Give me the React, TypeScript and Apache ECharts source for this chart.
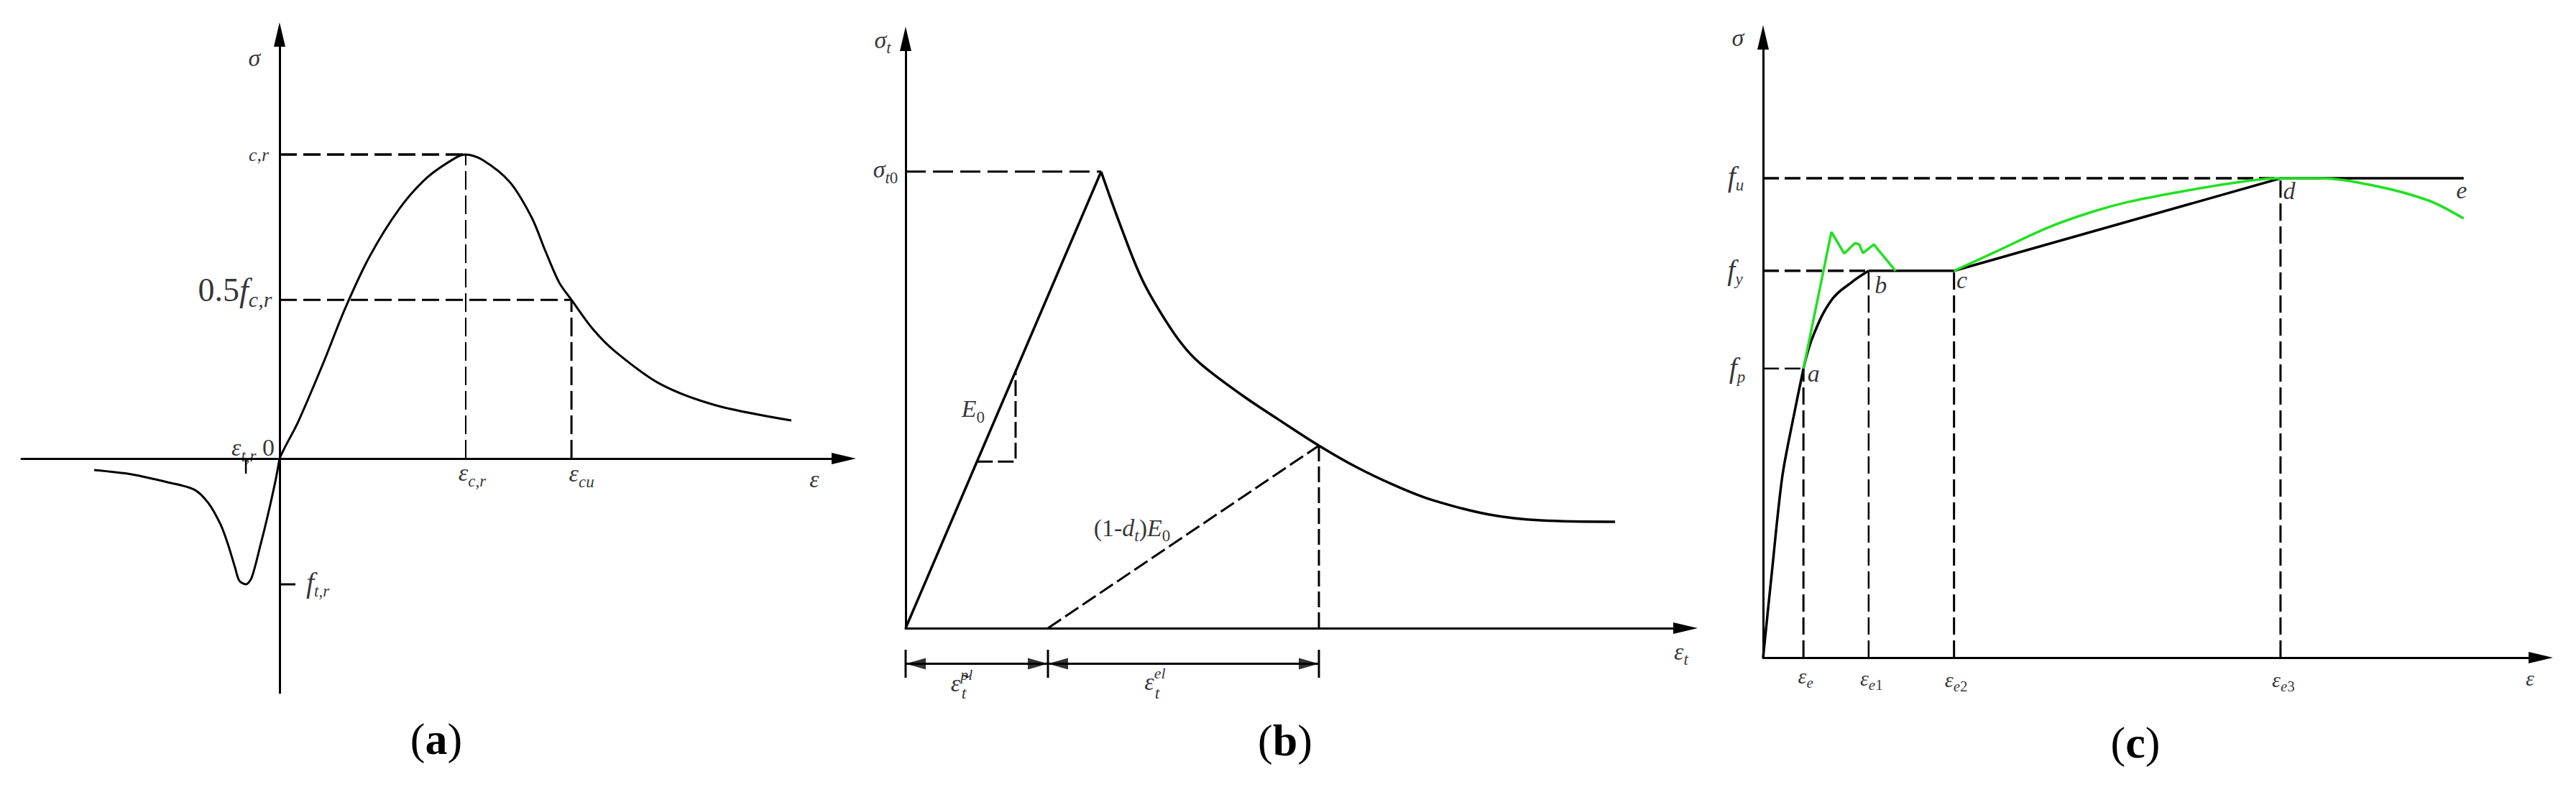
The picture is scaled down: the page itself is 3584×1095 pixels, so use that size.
import React, { useEffect, useRef } from "react";
import * as echarts from "echarts";

type P = [number, number];

const FONT = "'Liberation Serif', 'Times New Roman', serif";
const BLACK = "#000000";
const GREEN = "#22e022";

// ---------------- Panel (a): concrete, normalised (ε / ε_c,r , σ / f_c,r) ----------------
const A_X_RANGE: P = [-1.386, 3.031];
const A_Y_RANGE: P = [-0.771, 1.395];
const A_TENSION: P[] = [
  [-0.996, -0.038], [-0.795, -0.052], [-0.602, -0.078], [-0.459, -0.102], [-0.382, -0.147],
  [-0.317, -0.217], [-0.278, -0.281], [-0.239, -0.359], [-0.216, -0.402], [-0.181, -0.414],
  [-0.150, -0.392], [-0.104, -0.288], [-0.066, -0.194], [-0.023, -0.076], [0, 0],
];
const A_COMPRESSION: P[] = [
  [0, 0], [0.027, 0.035], [0.100, 0.121], [0.232, 0.310], [0.351, 0.492], [0.483, 0.664],
  [0.645, 0.823], [0.792, 0.924], [0.942, 0.988], [1.0, 1.0], [1.089, 0.983], [1.236, 0.910],
  [1.355, 0.792], [1.429, 0.681], [1.502, 0.579], [1.568, 0.522], [1.680, 0.428], [1.803, 0.352],
  [2.042, 0.246], [2.344, 0.175], [2.749, 0.125],
];
const A_EPS_TR = -0.181;
const A_F_TR = -0.414;
const A_EPS_CR = 1.0;
const A_F_CR = 1.0;
const A_EPS_CU = 1.568;
const A_HALF_FCR = 0.522;
const A_TICK_LEN = 0.05;
const A_FTR_TICK_LEN = 0.085;

// ---------------- Panel (b): concrete tension damage (ε / ε_t0 , σ / σ_t0) ----------------
const B_X_RANGE: P = [0, 3.989];
const B_Y_RANGE: P = [0, 1.291];
const B_EPS_T0 = 1.0;
const B_SIG_T0 = 1.0;
const B_LOADING: P[] = [[0, 0], [B_EPS_T0, B_SIG_T0]];
const B_SOFTENING: P[] = [
  [1.0, 1.0], [1.099, 0.882], [1.213, 0.761], [1.349, 0.661], [1.445, 0.606], [1.537, 0.569],
  [1.732, 0.507], [1.904, 0.458], [2.114, 0.400], [2.305, 0.353], [2.500, 0.313], [2.684, 0.282],
  [2.982, 0.249], [3.250, 0.236], [3.629, 0.233],
];
const B_PLASTIC = 0.728; // ε̃_t^pl
const B_UNLOAD_END: P = [2.114, 0.400];
const B_TRI_LOW = 0.365;
const B_TRI_HIGH = 0.5625;
const B_ARROW_HALF = 0.0515;

// ---------------- Panel (c): steel (ε / ε_e3 , σ / f_u) ----------------
const C_X_RANGE: P = [0, 1.503];
const C_Y_RANGE: P = [0, 1.294];
const C_EPS_E = 0.078;
const C_EPS_E1 = 0.204;
const C_EPS_E2 = 0.369;
const C_EPS_E3 = 1.0;
const C_END = 1.354;
const C_FP = 0.603;
const C_FY = 0.807;
const C_FU = 1.0;
const C_ELASTIC: P[] = [[0, 0], [0.016, 0.168], [0.037, 0.377], [0.059, 0.503], [C_EPS_E, C_FP]];
const C_ELASTO_PLASTIC: P[] = [[C_EPS_E, C_FP], [0.097, 0.672], [0.133, 0.747], [0.171, 0.783], [C_EPS_E1, C_FY]];
const C_PLATEAU_HARDEN: P[] = [[C_EPS_E1, C_FY], [C_EPS_E2, C_FY], [C_EPS_E3, C_FU], [C_END, C_FU]];
const C_TEST_YIELD: P[] = [
  [C_EPS_E, C_FP], [0.132, 0.888], [0.157, 0.843], [0.178, 0.865], [0.186, 0.862], [0.193, 0.844],
  [0.214, 0.862], [0.256, 0.807],
];
const C_TEST_HARDEN: P[] = [
  [C_EPS_E2, C_FY], [0.45, 0.847], [0.55, 0.897], [0.636, 0.930], [0.711, 0.952], [0.822, 0.975],
  [0.926, 0.993], [1.0, 1.0], [1.072, 1.0], [1.179, 0.985], [1.285, 0.954], [1.354, 0.916],
];

const PANEL_TAGS = ["a", "b", "c"];

// ---------------- helpers ----------------
const ln = (g: number, data: P[], o: any = {}) => ({
  type: "line",
  xAxisIndex: g,
  yAxisIndex: g,
  data,
  symbol: "none",
  showSymbol: false,
  smooth: o.smooth ?? false,
  clip: false,
  silent: true,
  z: o.z ?? 3,
  lineStyle: { color: o.color ?? BLACK, width: o.w ?? 3, type: o.dash ?? "solid", cap: "butt" },
});

const RICH: any = {
  m: { fontFamily: FONT, fontStyle: "italic", fontSize: 34, lineHeight: 46, color: BLACK },
  s: { fontFamily: FONT, fontStyle: "italic", fontSize: 23, lineHeight: 23, verticalAlign: "bottom", color: BLACK },
  s2: { fontFamily: FONT, fontStyle: "italic", fontSize: 24, lineHeight: 24, color: BLACK },
  ns: { fontFamily: FONT, fontSize: 23, lineHeight: 23, verticalAlign: "bottom", color: BLACK },
  u: { fontFamily: FONT, fontStyle: "italic", fontSize: 22, lineHeight: 22, verticalAlign: "top", color: BLACK },
  n: { fontFamily: FONT, fontSize: 34, lineHeight: 46, color: BLACK },
  cr: { fontFamily: FONT, fontStyle: "italic", fontSize: 26, lineHeight: 30, color: BLACK },
  N: { fontFamily: FONT, fontSize: 46, lineHeight: 56, color: BLACK },
  M: { fontFamily: FONT, fontStyle: "italic", fontSize: 46, lineHeight: 56, color: BLACK },
  S: { fontFamily: FONT, fontStyle: "italic", fontSize: 30, lineHeight: 30, verticalAlign: "bottom", color: BLACK },
  f: { fontFamily: FONT, fontStyle: "italic", fontSize: 40, lineHeight: 48, color: BLACK },
  pt: { fontFamily: FONT, fontStyle: "italic", fontSize: 34, lineHeight: 40, color: BLACK },
  cm: { fontFamily: FONT, fontStyle: "italic", fontSize: 30, lineHeight: 40, color: BLACK },
  cs: { fontFamily: FONT, fontStyle: "italic", fontSize: 21, lineHeight: 21, verticalAlign: "bottom", color: BLACK },
  cns: { fontFamily: FONT, fontSize: 21, lineHeight: 21, verticalAlign: "bottom", color: BLACK },
};

type Lbl = { at: P; t: string; d: P };
const labels = (g: number, list: Lbl[]) => ({
  type: "scatter",
  xAxisIndex: g,
  yAxisIndex: g,
  symbolSize: 1,
  clip: false,
  silent: true,
  z: 10,
  itemStyle: { color: "rgba(0,0,0,0)" },
  label: { show: true, position: "inside", color: BLACK, fontFamily: FONT, fontSize: 34, rich: RICH },
  data: list.map((l) => ({ value: l.at, label: { formatter: () => l.t, offset: l.d } })),
});

const axisLine = {
  show: true,
  onZero: true,
  symbol: ["none", "triangle"],
  symbolSize: [16, 34],
  lineStyle: { color: BLACK, width: 3 },
};
const mkAxis = (g: number, r: P, show: boolean) => ({
  type: "value",
  gridIndex: g,
  min: r[0],
  max: r[1],
  show,
  axisLine,
  axisTick: { show: false },
  axisLabel: { show: false },
  splitLine: { show: false },
});

export default function App() {
  const ref = useRef<HTMLDivElement>(null);
  useEffect(() => {
    document.body.style.margin = "0";
    if (!ref.current) return;
    const chart = echarts.init(ref.current, undefined, { renderer: "svg" });

    const A_LABELS: Lbl[] = [
      { at: [0, A_Y_RANGE[1]], t: "{m|σ}", d: [-35, 32] },
      { at: [A_X_RANGE[1], 0], t: "{m|ε}", d: [-41, 29] },
      { at: [0, A_F_CR], t: "{cr|c,r}", d: [-29, 0] },
      { at: [0, A_HALF_FCR], t: "{N|0.5}{M|f}{S|c,r}", d: [-62, -14] },
      { at: [A_EPS_CR, 0], t: "{m|ε}{s|c,r}", d: [9, 20] },
      { at: [A_EPS_CU, 0], t: "{m|ε}{s|cu}", d: [14, 21] },
      { at: [0, 0], t: "{m|ε}{s|t,r}{n| 0}", d: [-37, -15] },
      { at: [0, A_F_TR], t: "{f|f}{s|t,r}", d: [53, -3] },
    ];
    const B_LABELS: Lbl[] = [
      { at: [0, B_Y_RANGE[1]], t: "{m|σ}{s|t}", d: [-32, 1] },
      { at: [0, B_SIG_T0], t: "{m|σ}{s|t}{ns|0}", d: [-28, -3] },
      { at: [B_X_RANGE[1], 0], t: "{m|ε}{s|t}", d: [-6, 32] },
      { at: [B_TRI_HIGH, B_TRI_HIGH], t: "{m|E}{ns|0}", d: [-59, 52] },
      { at: [B_PLASTIC, 0], t: "{n|(1-}{m|d}{s|t}{n|)}{m|E}{ns|0}", d: [117, -140] },
      { at: [0, 0], t: "{m|ε\u0303}{u|pl}", d: [78, 76] },
      { at: [0, 0], t: "{s2|t}", d: [81, 90] },
      { at: [B_PLASTIC, 0], t: "{m|ε}{u|el}", d: [149, 74] },
      { at: [B_PLASTIC, 0], t: "{s2|t}", d: [152, 90] },
    ];
    const C_LABELS: Lbl[] = [
      { at: [0, C_Y_RANGE[1]], t: "{m|σ}", d: [-35, 0] },
      { at: [0, C_FU], t: "{f|f}{s|u}", d: [-38, -3] },
      { at: [0, C_FY], t: "{f|f}{s|y}", d: [-39, -1] },
      { at: [0, C_FP], t: "{f|f}{s|p}", d: [-36, -1] },
      { at: [C_X_RANGE[1], 0], t: "{cm|ε}", d: [-15, 28] },
      { at: [C_EPS_E, 0], t: "{cm|ε}{cs|e}", d: [3, 25] },
      { at: [C_EPS_E1, 0], t: "{cm|ε}{cs|e}{cns|1}", d: [4, 28] },
      { at: [C_EPS_E2, 0], t: "{cm|ε}{cs|e}{cns|2}", d: [3, 30] },
      { at: [C_EPS_E3, 0], t: "{cm|ε}{cs|e}{cns|3}", d: [4, 30] },
      { at: [C_EPS_E, C_FP], t: "{pt|a}", d: [14, 7] },
      { at: [C_EPS_E1, C_FY], t: "{pt|b}", d: [17, 20] },
      { at: [C_EPS_E2, C_FY], t: "{pt|c}", d: [11, 13] },
      { at: [C_EPS_E3, C_FU], t: "{pt|d}", d: [12, 17] },
      { at: [C_END, C_FU], t: "{pt|e}", d: [-3, 16] },
    ];

    const dashA = [24, 9];
    const dashC = [22, 8];
    const series: any[] = [
      // ----- (a)
      ln(0, [[0, A_F_CR], [A_EPS_CR, A_F_CR]], { dash: dashA, w: 3.5 }),
      ln(0, [[0, A_HALF_FCR], [A_EPS_CU, A_HALF_FCR]], { dash: dashA, w: 3 }),
      ln(0, [[A_EPS_CR, 0], [A_EPS_CR, A_F_CR]], { dash: [26, 8], w: 2 }),
      ln(0, [[A_EPS_CU, 0], [A_EPS_CU, A_HALF_FCR]], { dash: [26, 8], w: 3 }),
      ln(0, [[A_EPS_TR, 0], [A_EPS_TR, -A_TICK_LEN]], { w: 2.5 }),
      ln(0, [[0, A_F_TR], [A_FTR_TICK_LEN, A_F_TR]], { w: 3 }),
      ln(0, A_TENSION, { smooth: 0.3, w: 3 }),
      ln(0, A_COMPRESSION, { smooth: 0.3, w: 3 }),
      labels(0, A_LABELS),
      // ----- (b)
      ln(1, [[0, B_SIG_T0], [B_EPS_T0, B_SIG_T0]], { dash: [28, 10], w: 3 }),
      ln(1, [[B_TRI_LOW, B_TRI_LOW], [B_TRI_HIGH, B_TRI_LOW], [B_TRI_HIGH, B_TRI_HIGH]], { dash: [22, 7], w: 3 }),
      ln(1, [[B_PLASTIC, 0], B_UNLOAD_END], { dash: [22, 7], w: 3 }),
      ln(1, [[B_UNLOAD_END[0], 0], B_UNLOAD_END], { dash: [22, 7], w: 3 }),
      ln(1, B_LOADING, { w: 3.5 }),
      ln(1, B_SOFTENING, { smooth: 0.35, w: 3.5 }),
      labels(1, B_LABELS),
      // ----- (b) dimension lines
      ln(3, [[0, 0], [0, 1]], { w: 3 }),
      ln(3, [[B_PLASTIC, 0], [B_PLASTIC, 1]], { w: 3 }),
      ln(3, [[B_UNLOAD_END[0], 0], [B_UNLOAD_END[0], 1]], { w: 3 }),
      ln(3, [[0, 0.5], [B_UNLOAD_END[0], 0.5]], { w: 3 }),
      {
        type: "scatter", xAxisIndex: 3, yAxisIndex: 3, clip: false, silent: true,
        symbol: "path://M0,8L28,0L28,16Z", symbolSize: [28, 16], itemStyle: { color: BLACK },
        data: [[B_ARROW_HALF, 0.5], [B_PLASTIC + B_ARROW_HALF, 0.5]],
      },
      {
        type: "scatter", xAxisIndex: 3, yAxisIndex: 3, clip: false, silent: true,
        symbol: "path://M28,8L0,0L0,16Z", symbolSize: [28, 16], itemStyle: { color: BLACK },
        data: [[B_PLASTIC - B_ARROW_HALF, 0.5], [B_UNLOAD_END[0] - B_ARROW_HALF, 0.5]],
      },
      // ----- (c)
      ln(2, [[0, C_FU], [C_EPS_E3, C_FU]], { dash: dashC, w: 3.5 }),
      ln(2, [[0, C_FY], [C_EPS_E1, C_FY]], { dash: dashC, w: 3.5 }),
      ln(2, [[0, C_FP], [C_EPS_E, C_FP]], { dash: dashC, w: 2.5 }),
      ln(2, [[C_EPS_E, 0], [C_EPS_E, C_FP]], { dash: [24, 8], w: 3 }),
      ln(2, [[C_EPS_E1, 0], [C_EPS_E1, C_FY]], { dash: [24, 8], w: 2.5 }),
      ln(2, [[C_EPS_E2, 0], [C_EPS_E2, C_FY]], { dash: [24, 8], w: 3 }),
      ln(2, [[C_EPS_E3, 0], [C_EPS_E3, C_FU]], { dash: [24, 8], w: 3 }),
      ln(2, C_ELASTIC, { smooth: 0.3, w: 3.5 }),
      ln(2, C_ELASTO_PLASTIC, { smooth: 0.4, w: 3.5 }),
      ln(2, C_PLATEAU_HARDEN, { w: 3.5 }),
      ln(2, C_TEST_YIELD, { color: GREEN, w: 3.5, z: 4 }),
      ln(2, C_TEST_HARDEN, { color: GREEN, w: 3.5, smooth: 0.35, z: 4 }),
      labels(2, C_LABELS),
    ];

    const tagPos: P[] = [[607, 1028], [1788, 1030], [2971, 1033]];

    chart.setOption({
      animation: false,
      backgroundColor: "#ffffff",
      grid: [
        { left: 30, top: 48, width: 1144, height: 916 },
        { left: 1260, top: 54, width: 1085, height: 820 },
        { left: 2453, top: 52, width: 1082, height: 863 },
        { left: 1260, top: 904, width: 1085, height: 39 },
      ],
      xAxis: [mkAxis(0, A_X_RANGE, true), mkAxis(1, B_X_RANGE, true), mkAxis(2, C_X_RANGE, true), mkAxis(3, B_X_RANGE, false)],
      yAxis: [mkAxis(0, A_Y_RANGE, true), mkAxis(1, B_Y_RANGE, true), mkAxis(2, C_Y_RANGE, true), mkAxis(3, [0, 1], false)],
      series,
      graphic: PANEL_TAGS.map((t, i) => ({
        type: "text",
        x: tagPos[i][0],
        y: tagPos[i][1],
        style: {
          text: `{p|(}{b|${t}}{p|)}`,
          align: "center",
          verticalAlign: "middle",
          rich: {
            p: { fontFamily: FONT, fontSize: 62, fill: BLACK },
            b: { fontFamily: FONT, fontSize: 62, fontWeight: "bold", fill: BLACK },
          },
        },
      })),
    });
    return () => chart.dispose();
  }, []);
  return <div ref={ref} style={{ width: 3584, height: 1095 }} />;
}
